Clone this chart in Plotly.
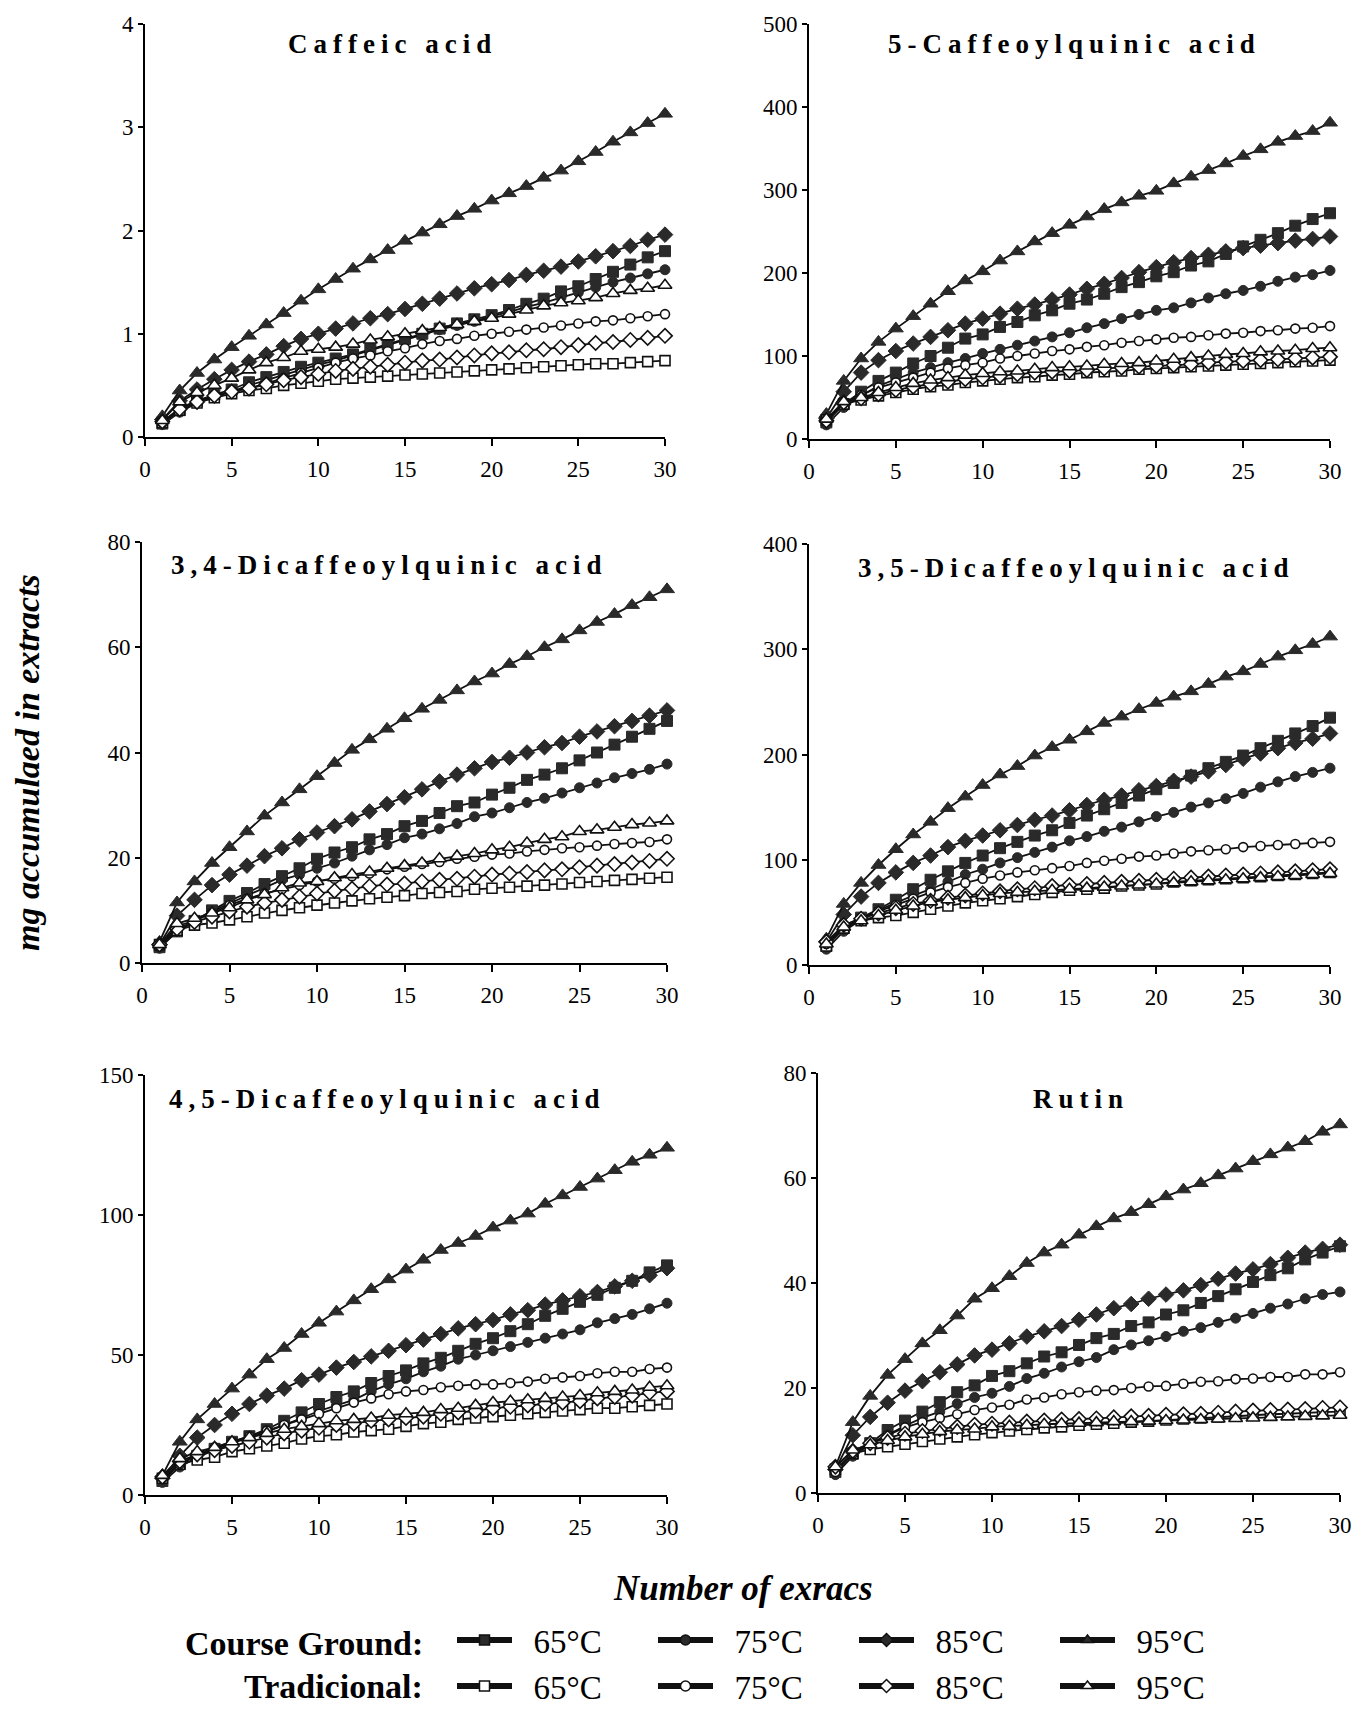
import plotly.graph_objects as go
from plotly.subplots import make_subplots

# page offset (browser body margin) and figure size
OFF = 8
W, H = 1368 - OFF, 1709 - OFF
extracts = list(range(1, 31))

panel_titles = ["Caffeic acid", "5-Caffeoylquinic acid", "3,4-Dicaffeoylquinic acid",
                "3,5-Dicaffeoylquinic acid", "4,5-Dicaffeoylquinic acid", "Rutin"]
y_max = [4, 500, 80, 400, 150, 80]
y_dtick = [1, 100, 20, 100, 50, 20]
x_ticks = [0, 5, 10, 15, 20, 25, 30]
temps = ["65°C", "75°C", "85°C", "95°C"]
groups = ["Course Ground:", "Tradicional:"]

# ---------------- Caffeic acid ----------------
ca_cg65 = [0.13, 0.26, 0.35, 0.41, 0.46, 0.53, 0.58, 0.63, 0.68, 0.72, 0.76, 0.80, 0.85, 0.90, 0.95,
           1.00, 1.05, 1.10, 1.14, 1.18, 1.23, 1.29, 1.34, 1.41, 1.46, 1.53, 1.60, 1.67, 1.74, 1.80]
ca_cg75 = [0.12, 0.24, 0.33, 0.39, 0.44, 0.50, 0.55, 0.60, 0.65, 0.70, 0.74, 0.79, 0.84, 0.89, 0.94,
           0.99, 1.04, 1.08, 1.12, 1.17, 1.21, 1.26, 1.30, 1.35, 1.40, 1.45, 1.50, 1.54, 1.58, 1.62]
ca_cg85 = [0.17, 0.35, 0.46, 0.56, 0.65, 0.73, 0.80, 0.88, 0.95, 1.00, 1.05, 1.10, 1.15, 1.19, 1.24,
           1.29, 1.34, 1.39, 1.44, 1.48, 1.52, 1.57, 1.61, 1.65, 1.70, 1.75, 1.80, 1.85, 1.91, 1.96]
ca_cg95 = [0.20, 0.45, 0.62, 0.75, 0.87, 0.98, 1.09, 1.20, 1.32, 1.43, 1.53, 1.63, 1.72, 1.81, 1.90,
           1.98, 2.06, 2.14, 2.21, 2.29, 2.36, 2.43, 2.51, 2.58, 2.67, 2.76, 2.86, 2.95, 3.04, 3.13]
ca_t65 = [0.14, 0.26, 0.33, 0.38, 0.42, 0.45, 0.47, 0.50, 0.52, 0.54, 0.56, 0.57, 0.58, 0.59, 0.60,
          0.61, 0.62, 0.63, 0.64, 0.65, 0.66, 0.67, 0.68, 0.69, 0.70, 0.71, 0.71, 0.72, 0.73, 0.74]
ca_t75 = [0.14, 0.28, 0.35, 0.40, 0.44, 0.47, 0.52, 0.57, 0.62, 0.67, 0.72, 0.76, 0.79, 0.83, 0.86,
          0.90, 0.93, 0.95, 0.98, 1.00, 1.02, 1.04, 1.06, 1.08, 1.10, 1.12, 1.13, 1.15, 1.17, 1.19]
ca_t85 = [0.15, 0.27, 0.34, 0.40, 0.44, 0.47, 0.51, 0.55, 0.58, 0.61, 0.64, 0.66, 0.68, 0.70, 0.72,
          0.74, 0.75, 0.77, 0.79, 0.81, 0.82, 0.84, 0.85, 0.87, 0.89, 0.91, 0.92, 0.94, 0.96, 0.98]
ca_t95 = [0.16, 0.34, 0.43, 0.50, 0.57, 0.65, 0.72, 0.77, 0.83, 0.85, 0.87, 0.90, 0.94, 0.97, 1.00,
          1.03, 1.06, 1.09, 1.12, 1.15, 1.19, 1.23, 1.27, 1.30, 1.32, 1.35, 1.39, 1.42, 1.44, 1.47]

# ---------------- 5-Caffeoylquinic acid ----------------
cq_cg65 = [20, 42, 57, 70, 80, 91, 100, 110, 121, 126, 135, 141, 149, 155, 163,
           168, 175, 183, 189, 196, 201, 209, 214, 223, 232, 240, 248, 257, 265, 272]
cq_cg75 = [17, 38, 52, 64, 72, 80, 86, 92, 97, 103, 108, 113, 118, 123, 128,
           134, 139, 145, 150, 155, 158, 164, 170, 175, 179, 184, 190, 195, 198, 203]
cq_cg85 = [25, 57, 80, 95, 106, 115, 123, 131, 139, 145, 151, 157, 162, 168, 174,
           181, 187, 194, 201, 207, 213, 218, 222, 226, 230, 233, 236, 239, 241, 244]
cq_cg95 = [30, 70, 97, 117, 133, 148, 163, 178, 191, 202, 215, 226, 238, 248, 258,
           268, 277, 285, 293, 299, 308, 316, 324, 332, 341, 349, 358, 365, 371, 381]
cq_t65 = [23, 42, 47, 52, 56, 60, 63, 65, 68, 70, 72, 74, 75, 77, 78,
          80, 81, 82, 84, 85, 86, 87, 88, 89, 90, 91, 92, 93, 94, 95]
cq_t75 = [22, 43, 53, 62, 68, 74, 80, 85, 89, 92, 97, 100, 103, 106, 108,
          111, 113, 116, 118, 120, 122, 123, 125, 127, 128, 130, 131, 133, 134, 136]
cq_t85 = [22, 44, 49, 54, 59, 63, 66, 69, 72, 74, 76, 78, 80, 81, 82,
          83, 85, 86, 87, 88, 89, 90, 92, 93, 94, 95, 96, 97, 98, 99]
cq_t95 = [24, 45, 50, 56, 62, 67, 71, 74, 77, 79, 81, 82, 84, 86, 87,
          88, 90, 91, 92, 94, 96, 98, 100, 102, 103, 105, 106, 107, 109, 110]

# ---------------- 3,4-Dicaffeoylquinic acid ----------------
d34_cg65 = [3.0, 6.0, 8.0, 10.0, 11.8, 13.3, 15.0, 16.5, 18.0, 19.8, 21.0, 22.0, 23.5, 24.5, 26.0,
            27.0, 28.5, 29.8, 30.5, 32.0, 33.3, 34.8, 35.8, 37.0, 38.5, 40.0, 41.5, 43.0, 44.5, 46.0]
d34_cg75 = [2.8, 6.0, 8.0, 9.8, 11.3, 12.8, 14.3, 15.8, 16.8, 18.0, 19.0, 20.3, 21.5, 22.5, 23.8,
            24.5, 25.5, 26.5, 27.8, 28.5, 29.5, 30.5, 31.3, 32.3, 33.3, 34.2, 35.2, 36.0, 36.8, 37.8]
d34_cg85 = [3.5, 9.0, 12.0, 14.8, 16.8, 18.5, 20.3, 21.8, 23.5, 24.8, 26.0, 27.3, 28.8, 30.2, 31.5,
            33.0, 34.5, 35.8, 37.0, 38.2, 39.0, 40.0, 41.0, 41.8, 43.0, 44.0, 45.0, 46.0, 47.0, 48.0]
d34_cg95 = [4.0, 11.5, 15.5, 19.0, 22.0, 25.0, 28.0, 30.5, 33.0, 35.5, 38.0, 40.5, 42.5, 44.5, 46.5,
            48.3, 50.0, 51.8, 53.5, 55.0, 56.8, 58.3, 60.0, 61.5, 63.2, 64.8, 66.3, 68.0, 69.5, 71.0]
d34_t65 = [3.5, 6.2, 7.2, 7.6, 8.2, 8.8, 9.5, 10.0, 10.5, 11.0, 11.4, 11.8, 12.2, 12.5, 12.8,
           13.2, 13.4, 13.6, 14.0, 14.2, 14.4, 14.6, 14.8, 15.0, 15.3, 15.5, 15.7, 15.9, 16.1, 16.3]
d34_t75 = [3.2, 7.0, 8.0, 9.5, 11.0, 12.2, 13.2, 14.0, 14.8, 15.5, 16.0, 16.5, 17.0, 17.8, 18.3,
           18.8, 19.2, 19.8, 20.2, 20.6, 20.8, 21.2, 21.5, 21.8, 22.0, 22.3, 22.6, 22.8, 23.0, 23.5]
d34_t85 = [3.5, 6.5, 7.8, 8.8, 9.8, 10.7, 11.4, 12.0, 12.6, 13.2, 13.7, 14.1, 14.6, 14.9, 15.1,
           15.5, 15.8, 16.0, 16.4, 16.8, 17.0, 17.3, 17.6, 17.8, 18.2, 18.5, 18.8, 19.1, 19.4, 19.8]
d34_t95 = [3.5, 7.5, 8.5, 9.5, 10.5, 12.0, 13.0, 14.3, 15.2, 15.5, 16.2, 16.8, 17.3, 18.0, 18.5,
           19.0, 19.8, 20.3, 20.8, 21.5, 22.0, 22.8, 23.5, 24.0, 25.0, 25.3, 25.8, 26.3, 26.6, 27.0]

# ---------------- 3,5-Dicaffeoylquinic acid ----------------
d35_cg65 = [18, 35, 45, 53, 62, 72, 81, 89, 97, 104, 111, 117, 123, 128, 135,
            142, 148, 154, 161, 167, 173, 180, 187, 193, 199, 206, 213, 220, 227, 235]
d35_cg75 = [15, 32, 43, 52, 59, 66, 72, 79, 86, 91, 97, 102, 107, 112, 118,
            122, 127, 131, 136, 141, 145, 150, 154, 158, 163, 169, 174, 179, 183, 187]
d35_cg85 = [22, 48, 65, 78, 88, 97, 104, 112, 118, 123, 128, 133, 138, 142, 147,
            152, 157, 161, 166, 170, 175, 179, 184, 190, 196, 201, 206, 211, 215, 220]
d35_cg95 = [25, 58, 78, 95, 110, 124, 136, 149, 160, 171, 181, 189, 199, 207, 214,
            222, 230, 236, 243, 249, 255, 260, 267, 274, 279, 286, 293, 299, 305, 312]
d35_t65 = [18, 35, 42, 45, 47, 50, 53, 56, 59, 61, 63, 65, 67, 69, 71,
           72, 73, 75, 76, 77, 79, 80, 81, 82, 83, 84, 85, 86, 87, 88]
d35_t75 = [20, 37, 45, 51, 57, 63, 69, 74, 78, 82, 85, 88, 90, 92, 94,
           97, 99, 101, 103, 104, 106, 108, 109, 110, 112, 113, 114, 115, 116, 117]
d35_t85 = [22, 38, 44, 49, 54, 58, 61, 64, 66, 68, 70, 72, 73, 75, 76,
           77, 78, 79, 80, 81, 82, 83, 84, 85, 86, 87, 88, 89, 90, 91]
d35_t95 = [20, 36, 42, 47, 52, 56, 60, 62, 64, 66, 68, 69, 70, 71, 72,
           73, 74, 75, 76, 77, 78, 79, 80, 81, 82, 83, 84, 85, 86, 87]

# ---------------- 4,5-Dicaffeoylquinic acid ----------------
d45_cg65 = [5.0, 11.0, 14.0, 16.5, 19.0, 21.0, 23.5, 26.5, 29.5, 32.5, 35.0, 37.0, 40.0, 42.5, 44.5,
            47.0, 49.0, 51.5, 54.0, 56.0, 58.5, 61.0, 64.0, 66.5, 69.0, 71.5, 74.0, 76.5, 79.5, 82.0]
d45_cg75 = [4.5, 10.0, 13.5, 16.0, 18.5, 20.5, 22.5, 25.0, 27.5, 30.0, 32.0, 34.0, 37.0, 39.5, 41.5,
            44.0, 46.0, 48.5, 50.0, 51.5, 53.0, 54.5, 56.0, 57.5, 59.0, 61.5, 63.0, 64.5, 66.5, 68.5]
d45_cg85 = [6.0, 14.0, 20.5, 25.0, 29.0, 32.5, 35.5, 38.0, 41.0, 43.0, 45.5, 47.5, 49.5, 51.5, 53.5,
            55.5, 57.5, 59.5, 61.0, 62.5, 64.5, 66.0, 68.0, 69.5, 71.0, 72.5, 74.5, 76.5, 78.5, 81.0]
d45_cg95 = [7.0, 19.0, 27.0, 32.5, 38.0, 43.0, 48.5, 52.5, 57.5, 61.5, 65.5, 69.5, 73.5, 77.0, 80.5,
            84.0, 87.5, 90.0, 92.5, 95.5, 98.0, 100.5, 104.0, 107.0, 110.0, 113.0, 116.0, 119.0, 121.5, 124.0]
d45_t65 = [6.0, 11.0, 12.5, 13.5, 15.5, 16.5, 17.5, 18.5, 20.0, 21.0, 21.5, 22.5, 23.0, 23.5, 24.5,
           25.5, 26.0, 27.0, 27.5, 28.0, 28.5, 29.0, 29.5, 30.0, 30.5, 31.0, 31.0, 31.5, 32.0, 32.5]
d45_t75 = [6.0, 11.0, 14.5, 17.0, 19.0, 21.0, 23.0, 25.0, 27.0, 29.0, 31.0, 33.0, 34.5, 36.0, 37.0,
           37.5, 38.5, 39.0, 39.5, 39.5, 40.0, 40.5, 41.5, 42.0, 42.5, 43.5, 44.0, 44.0, 45.0, 45.5]
d45_t85 = [6.5, 12.0, 14.5, 16.0, 17.5, 19.0, 20.5, 22.0, 23.0, 24.0, 25.0, 25.5, 26.5, 27.0, 27.5,
           28.0, 29.0, 29.5, 30.0, 31.0, 31.5, 32.0, 32.5, 33.0, 33.5, 34.5, 35.0, 35.5, 36.5, 37.0]
d45_t95 = [7.0, 13.0, 15.5, 17.0, 19.0, 20.5, 22.0, 23.5, 24.5, 25.5, 26.5, 27.0, 27.5, 28.5, 29.0,
           29.5, 30.5, 31.0, 32.0, 33.0, 33.5, 34.0, 34.5, 35.0, 35.5, 36.5, 37.0, 37.5, 38.5, 39.0]

# ---------------- Rutin ----------------
ru_cg65 = [4.0, 7.5, 9.5, 12.0, 13.8, 15.5, 17.3, 19.2, 20.5, 22.3, 23.2, 24.7, 26.0, 26.8, 28.2,
           29.5, 30.3, 31.8, 32.5, 34.0, 34.8, 36.2, 37.5, 38.8, 40.2, 41.5, 42.8, 44.5, 45.8, 47.0]
ru_cg75 = [3.5, 7.0, 9.3, 11.0, 12.8, 14.3, 15.5, 17.0, 18.2, 19.0, 20.3, 21.8, 22.8, 24.0, 25.0,
           25.8, 27.3, 28.2, 29.0, 29.8, 30.8, 31.5, 32.5, 33.3, 34.2, 35.2, 36.0, 37.0, 37.8, 38.3]
ru_cg85 = [4.5, 11.0, 14.5, 17.2, 19.5, 21.3, 23.0, 24.5, 26.2, 27.3, 28.5, 29.8, 30.8, 31.8, 33.0,
           34.0, 35.2, 36.0, 37.0, 37.8, 38.6, 39.6, 40.8, 41.8, 42.6, 43.6, 44.8, 45.8, 46.5, 47.3]
ru_cg95 = [5.0, 13.5, 18.5, 22.5, 25.5, 28.5, 31.0, 33.8, 37.0, 39.0, 41.3, 43.8, 45.8, 47.3, 49.2,
           50.8, 52.3, 53.5, 55.0, 56.5, 57.8, 59.0, 60.5, 61.8, 63.2, 64.5, 65.8, 67.0, 68.8, 70.2]
ru_t65 = [4.5, 7.5, 8.3, 8.8, 9.3, 9.8, 10.3, 10.7, 11.1, 11.5, 11.8, 12.1, 12.4, 12.6, 12.9,
          13.1, 13.3, 13.5, 13.7, 13.9, 14.1, 14.3, 14.5, 14.7, 14.9, 15.0, 15.1, 15.3, 15.4, 15.5]
ru_t75 = [4.0, 7.5, 9.5, 11.0, 12.5, 13.5, 14.3, 15.0, 15.8, 16.3, 16.8, 17.8, 18.2, 18.8, 19.2,
          19.5, 19.6, 20.0, 20.3, 20.4, 20.8, 21.2, 21.3, 21.7, 21.8, 22.1, 22.1, 22.6, 22.6, 23.0]
ru_t85 = [5.0, 8.0, 9.5, 10.5, 11.3, 11.8, 12.2, 12.6, 13.0, 13.2, 13.4, 13.6, 13.8, 14.0, 14.1,
          14.2, 14.4, 14.6, 14.7, 14.9, 15.0, 15.1, 15.3, 15.5, 15.7, 15.8, 15.9, 16.0, 16.2, 16.3]
ru_t95 = [5.0, 8.2, 9.2, 10.0, 10.7, 11.2, 11.7, 12.0, 12.2, 12.6, 12.7, 12.9, 13.1, 13.2, 13.3,
          13.4, 13.6, 13.6, 13.7, 13.8, 13.9, 14.0, 14.1, 14.2, 14.3, 14.4, 14.5, 14.6, 14.7, 14.8]

panels = [
    [ca_cg65, ca_cg75, ca_cg85, ca_cg95, ca_t65, ca_t75, ca_t85, ca_t95],
    [cq_cg65, cq_cg75, cq_cg85, cq_cg95, cq_t65, cq_t75, cq_t85, cq_t95],
    [d34_cg65, d34_cg75, d34_cg85, d34_cg95, d34_t65, d34_t75, d34_t85, d34_t95],
    [d35_cg65, d35_cg75, d35_cg85, d35_cg95, d35_t65, d35_t75, d35_t85, d35_t95],
    [d45_cg65, d45_cg75, d45_cg85, d45_cg95, d45_t65, d45_t75, d45_t85, d45_t95],
    [ru_cg65, ru_cg75, ru_cg85, ru_cg95, ru_t65, ru_t75, ru_t85, ru_t95],
]

# ---------------- styling ----------------
FONT = "Liberation Serif"
INK = "#111111"
FILL = "#2a2a2a"
symbols = ["square", "circle", "diamond", "triangle-up"]
sizes = [11, 10, 12, 13]
# series order: CG65, CG75, CG85, CG95, T65, T75, T85, T95


def px(x):
    return (x - OFF) / W


def py(y):
    return 1 - (y - OFF) / H


# panel plot areas in screen pixels: (x_left, x_right, y_top, y_bottom)
boxes = [
    (145, 665, 24, 437),
    (809, 1330, 24, 439),
    (142, 667, 542, 963),
    (809, 1330, 544, 965),
    (145, 667, 1075, 1495),
    (818, 1340, 1073, 1493),
]
title_pos = [(392, 44), (1074, 44), (389, 565), (1076, 568), (387, 1099), (1081, 1099)]

fig = make_subplots(rows=3, cols=2)

for p, series in enumerate(panels):
    r, c = p // 2 + 1, p % 2 + 1
    for s, vals in enumerate(series):
        k = s % 4
        filled = s < 4
        fig.add_trace(go.Scatter(
            x=extracts, y=vals, mode="lines+markers",
            line=dict(color=INK, width=1.8),
            marker=dict(symbol=symbols[k], size=sizes[k] if filled else sizes[k] - 1,
                        color=FILL if filled else "white",
                        line=dict(color=FILL if filled else INK, width=1.0 if filled else 1.6)),
            showlegend=False, cliponaxis=False, hoverinfo="skip"),
            row=r, col=c)

# legend-only entries
for s in range(8):
    k = s % 4
    filled = s < 4
    fig.add_trace(go.Scatter(
        x=[None], y=[None], mode="lines+markers", name="\u2002" + temps[k],
        legend="legend" if filled else "legend2",
        line=dict(color=INK, width=6),
        marker=dict(symbol=symbols[k], size=10,
                    color=FILL if filled else "white",
                    line=dict(color=INK, width=1.5)),
        showlegend=True), row=1, col=1)

axis_common = dict(showline=True, linecolor="black", linewidth=1.6, ticks="outside",
                   tickwidth=1.6, tickcolor="black", showgrid=False, zeroline=False,
                   ticklabeloverflow="allow",
                   tickfont=dict(family=FONT, size=23, color="black"), mirror=False)

for p in range(6):
    xl, xr, yt, yb = boxes[p]
    xa = "xaxis" if p == 0 else f"xaxis{p+1}"
    ya = "yaxis" if p == 0 else f"yaxis{p+1}"
    fig.layout[xa].update(domain=[px(xl), px(xr)], range=[0, 30], tickvals=x_ticks,
                          ticklen=7, ticklabelstandoff=4, **axis_common)
    fig.layout[ya].update(domain=[py(yb), py(yt)], range=[0, y_max[p]],
                          dtick=y_dtick[p], tick0=0, ticklen=5, ticklabelstandoff=0,
                          **axis_common)

annotations = []
for p, (tx, ty) in enumerate(title_pos):
    annotations.append(dict(
        text=f'<span style="letter-spacing:6px"><b>{panel_titles[p]}</b></span>',
        x=px(tx), y=py(ty), xref="paper", yref="paper", showarrow=False,
        xanchor="center", yanchor="middle", font=dict(family=FONT, size=27, color="black")))

annotations.append(dict(text="<b><i>mg accumulaed in extracts</i></b>", x=px(27), y=py(763),
                        xref="paper", yref="paper", showarrow=False, textangle=-90,
                        xanchor="center", yanchor="middle",
                        font=dict(family=FONT, size=34, color="black")))
annotations.append(dict(text="<b><i>Number of exracs</i></b>", x=px(743), y=py(1588),
                        xref="paper", yref="paper", showarrow=False,
                        xanchor="center", yanchor="middle",
                        font=dict(family=FONT, size=35, color="black")))
# legend row labels
for g, yy in zip(groups, [1643, 1686]):
    annotations.append(dict(text=f"<b>{g}</b>", x=px(425), y=py(yy),
                            xref="paper", yref="paper", showarrow=False,
                            xanchor="right", yanchor="middle",
                            font=dict(family=FONT, size=34, color="black")))

legend_common = dict(orientation="h", xanchor="left", yanchor="middle",
                     itemwidth=55, entrywidth=131, entrywidthmode="pixels",
                     bgcolor="rgba(0,0,0,0)", tracegroupgap=0,
                     font=dict(family=FONT, size=33, color="black"))

fig.update_layout(
    width=W, height=H, margin=dict(l=0, r=0, t=0, b=0, autoexpand=False),
    paper_bgcolor="white", plot_bgcolor="white",
    annotations=annotations,
    legend=dict(x=px(452), y=py(1640), **legend_common),
    legend2=dict(x=px(452), y=py(1686), **legend_common),
)

fig.write_html("out.html")
